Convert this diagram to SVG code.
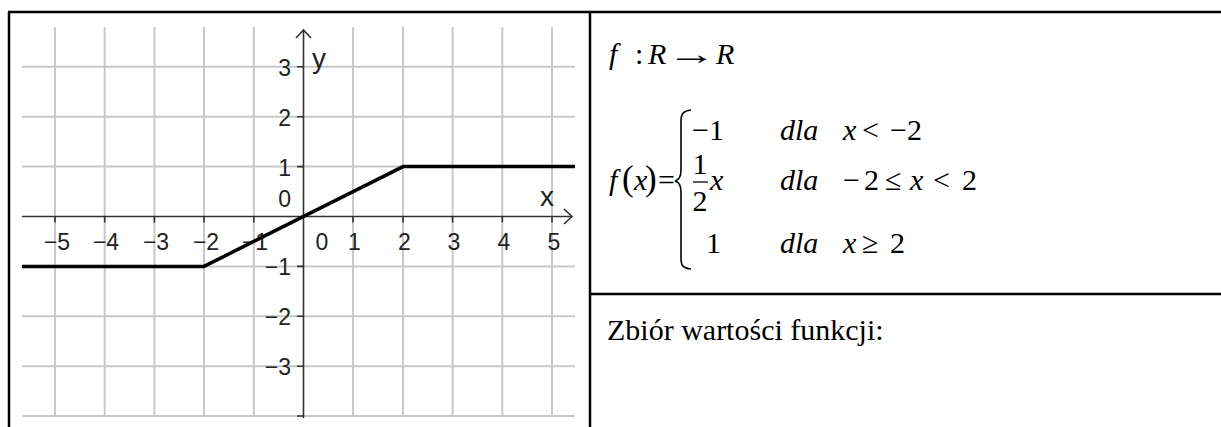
<svg xmlns="http://www.w3.org/2000/svg" width="1221" height="427" viewBox="0 0 1221 427">
<style>
.grid{stroke:#c8c8c8;stroke-width:2;fill:none}
.axis{stroke:#333;stroke-width:1.6;fill:none}
.tick{stroke:#333;stroke-width:1.6}
.lbl{font-family:"Liberation Sans",Arial,sans-serif;font-size:23px;fill:#222}
.ax{font-family:"Liberation Sans",Arial,sans-serif;font-size:28px;fill:#222}
.border{stroke:#000;stroke-width:2.5;fill:none}
.m{font-family:"Liberation Serif","Times New Roman",serif;font-size:30px;fill:#000}
.i{font-style:italic}
</style>
<rect width="1221" height="427" fill="#fff"/>
<g id="table">
<line class="border" x1="8" y1="12" x2="1221" y2="12"/>
<line class="border" x1="9" y1="12" x2="9" y2="427"/>
<line class="border" x1="590" y1="12" x2="590" y2="427"/>
<line class="border" x1="590" y1="294" x2="1221" y2="294"/>
</g>
<g id="grid">
<path class="grid" d="M55,27V416M104.7,27V416M154.4,27V416M204,27V416M253.8,27V416M353,27V416M403,27V416M452.6,27V416M502.3,27V416M552,27V416"/>
<path class="grid" d="M22,66.8H575M22,116.7H575M22,166.6H575M22,266.4H575M22,316.3H575M22,366.2H575M22,416H575"/>
</g>
<g id="axes">
<path class="axis" d="M22,216.5H572M564,209L572,216.5L564,224"/>
<path class="axis" d="M303.5,418V30M296,38L303.5,30L311,38"/>
<path class="tick" d="M55,216.5v6M104.7,216.5v6M154.4,216.5v6M204,216.5v6M253.8,216.5v6M353,216.5v6M403,216.5v6M452.6,216.5v6M502.3,216.5v6M552,216.5v6"/>
<path class="tick" d="M297,66.8h6.5M297,116.7h6.5M297,166.6h6.5M297,266.4h6.5M297,316.3h6.5M297,366.2h6.5M297,416h6.5"/>
</g>
<g id="labels">
<g class="lbl" text-anchor="middle">
<text x="57" y="250">−5</text>
<text x="106" y="250">−4</text>
<text x="156" y="250">−3</text>
<text x="206" y="250">−2</text>
<text x="255" y="250">−1</text>
<text x="322" y="250">0</text>
<text x="354.5" y="250">1</text>
<text x="404.5" y="250">2</text>
<text x="454" y="250">3</text>
<text x="504" y="250">4</text>
<text x="554" y="250">5</text>
</g>
<g class="lbl" text-anchor="end">
<text x="291" y="76">3</text>
<text x="291" y="126">2</text>
<text x="291" y="176">1</text>
<text x="291" y="207">0</text>
<text x="291" y="275">−1</text>
<text x="291" y="325">−2</text>
<text x="291" y="375">−3</text>
</g>
<text class="ax" x="540" y="206">x</text>
<text class="ax" x="312" y="68">y</text>
</g>
<g id="function">
<polyline points="22,266.4 204,266.4 403,166.6 575,166.6" fill="none" stroke="#000" stroke-width="3.5" stroke-linejoin="round"/>
</g>
<g id="formula">
<text class="m" y="64"><tspan class="i" x="609">f</tspan><tspan x="635">:</tspan><tspan class="i" x="648">R</tspan><tspan class="i" x="716">R</tspan></text>
<text class="m" transform="translate(667,64) scale(1.65,1)">→</text>
<text class="m" y="190"><tspan class="i" x="609">f</tspan><tspan x="622" font-size="35">(</tspan><tspan class="i" x="634">x</tspan><tspan x="645" font-size="35">)</tspan><tspan x="658">=</tspan></text>
<path d="M691,110C683,111 681,114 681,121V170C681,176 679,180 675,181C679,182 681,186 681,192V258C681,266 683,268 691,269" fill="none" stroke="#000" stroke-width="1.6"/>
<text class="m" y="140"><tspan x="692">−1</tspan><tspan class="i" x="780">dla</tspan><tspan class="i" x="843">x</tspan><tspan x="862">&lt;</tspan><tspan x="890">−2</tspan></text>
<text class="m" text-anchor="middle" x="700" y="174">1</text>
<line x1="693" y1="182" x2="708" y2="182" stroke="#000" stroke-width="1.3"/>
<text class="m" text-anchor="middle" x="700" y="211">2</text>
<text class="m" y="190"><tspan class="i" x="710">x</tspan><tspan class="i" x="780">dla</tspan><tspan x="843">−</tspan><tspan x="864">2</tspan><tspan x="885">≤</tspan><tspan class="i" x="910">x</tspan><tspan x="933">&lt;</tspan><tspan x="962">2</tspan></text>
<text class="m" y="253"><tspan x="706">1</tspan><tspan class="i" x="780">dla</tspan><tspan class="i" x="843">x</tspan><tspan x="862">≥</tspan><tspan x="890">2</tspan></text>
</g>
<g id="answer">
<text class="m" x="607" y="340">Zbiór wartości funkcji:</text>
</g>
</svg>
